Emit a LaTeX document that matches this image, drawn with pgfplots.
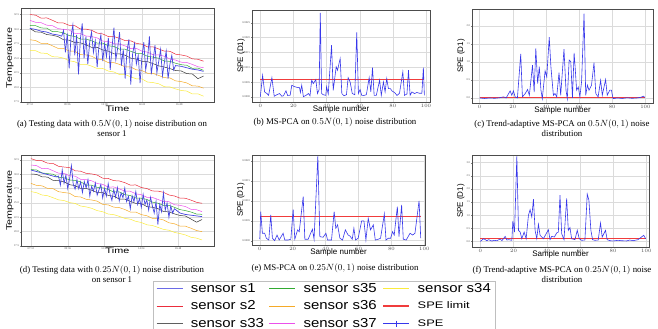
\documentclass[border=0pt]{standalone}
\usepackage{fontspec}
\setmainfont{Liberation Serif}
\setsansfont{Liberation Sans}
\newfontfamily\widesans[FakeStretch=1.35]{Liberation Sans}
\newfontfamily\legsans[FakeStretch=1.15]{Liberation Sans}
\usepackage{pgfplots}
\usepackage{pgfplotstable}
\pgfplotsset{compat=1.18}

\definecolor{cS1}{RGB}{70,70,225}
\definecolor{cS2}{RGB}{235,45,60}
\definecolor{cS33}{RGB}{55,55,55}
\definecolor{cS35}{RGB}{50,170,50}
\definecolor{cS36}{RGB}{245,170,40}
\definecolor{cS37}{RGB}{235,80,235}
\definecolor{cS34}{RGB}{250,235,60}
\definecolor{cSPE}{RGB}{55,55,235}
\definecolor{cLim}{RGB}{240,60,60}

\pgfplotstableread{
x s2 s37 s35 s33 s36 s34
0 6.00 5.60 5.25 5.04 4.27 3.53
3 5.96 5.47 5.24 4.81 4.22 3.52
6 5.75 5.44 5.08 4.79 4.02 3.35
9 5.77 5.27 5.07 4.63 4.03 3.34
12 5.61 5.24 4.83 4.58 3.86 3.11
15 5.43 5.04 4.82 4.49 3.68 3.09
18 5.42 4.98 4.74 4.27 3.67 3.01
21 5.26 4.94 4.56 4.24 3.50 2.83
24 5.24 4.71 4.50 4.08 3.48 2.76
27 5.01 4.69 4.32 4.06 3.25 2.58
30 5.00 4.53 4.32 3.93 3.23 2.59
33 4.92 4.49 4.20 3.75 3.14 2.46
36 4.73 4.40 4.04 3.75 2.95 2.30
39 4.67 4.18 4.04 3.57 2.89 2.30
42 4.49 4.15 3.86 3.49 2.70 2.12
45 4.49 4.00 3.81 3.31 2.70 2.06
48 4.37 3.97 3.62 3.30 2.58 1.88
51 4.21 3.85 3.62 3.21 2.41 1.88
54 4.20 3.67 3.48 3.01 2.40 1.73
57 4.02 3.68 3.34 2.94 2.21 1.59
60 3.97 3.49 3.33 2.79 2.16 1.58
63 3.78 3.42 3.13 2.77 1.97 1.37
66 3.78 3.24 3.08 2.63 1.96 1.33
69 3.64 3.23 3.00 2.48 1.82 1.25
72 3.49 3.14 2.81 2.40 1.67 1.05
75 3.48 2.95 2.79 2.29 1.65 1.03
78 3.28 2.88 2.66 2.16 1.45 0.90
81 3.23 2.73 2.56 2.13 1.40 0.79
84 3.15 2.71 2.52 1.95 1.31 0.75
87 2.96 2.58 2.31 1.92 1.11 0.55
90 2.93 2.42 2.33 1.60 1.09 0.56
93 2.80 2.35 2.17 1.78 0.95 0.40
}\dataA

\pgfplotstableread{
x s2 s37 s35 s33 s36 s34
0 6.10 5.65 5.33 5.02 4.37 3.80
3 5.97 5.61 5.31 5.00 4.23 3.72
6 5.95 5.40 5.10 4.83 4.20 3.56
9 5.78 5.42 5.05 4.81 4.02 3.51
12 5.76 5.25 5.01 4.58 4.00 3.37
15 5.56 5.08 4.79 4.56 3.79 3.22
18 5.51 5.06 4.76 4.47 3.73 3.17
21 5.47 4.90 4.61 4.28 3.68 3.03
24 5.25 4.88 4.57 4.21 3.45 2.97
27 5.22 4.65 4.48 4.02 3.42 2.79
30 5.07 4.63 4.26 4.02 3.26 2.73
33 5.03 4.55 4.24 3.89 3.21 2.63
36 4.95 4.36 4.09 3.73 3.13 2.47
39 4.73 4.30 4.06 3.72 2.90 2.39
42 4.71 4.11 3.94 3.53 2.87 2.23
45 4.56 4.12 3.77 3.47 2.71 2.19
48 4.54 3.99 3.77 3.28 2.68 2.07
51 4.42 3.83 3.59 3.27 2.55 1.93
54 4.25 3.82 3.52 3.12 2.37 1.87
57 4.26 3.64 3.35 2.97 2.37 1.72
60 4.08 3.58 3.33 2.96 2.19 1.64
63 4.01 3.40 3.25 2.75 2.11 1.48
66 3.84 3.39 3.06 2.70 1.93 1.43
69 3.83 3.25 2.99 2.61 1.91 1.30
72 3.75 3.10 2.84 2.41 1.82 1.16
75 3.56 3.09 2.83 2.38 1.62 1.10
78 3.49 2.88 2.70 2.24 1.55 0.95
81 3.34 2.84 2.54 2.13 1.39 0.87
84 3.33 2.75 2.47 2.09 1.38 0.77
87 3.20 2.56 2.37 1.88 1.24 0.61
90 3.05 2.53 2.23 1.66 1.08 0.55
93 2.98 2.40 2.21 1.85 1.00 0.42
}\dataD

\pgfplotsset{
  panel/.style={
    scale only axis, anchor=south west,
    axis line style={gray!60!black, line width=0.4pt},
    grid=major, grid style={gray!28, line width=0.4pt},
    tick label style={font=\fontsize{2.8}{3}\selectfont, text=gray!60!black, inner sep=0.8pt},
    major tick length=1pt, tick align=outside, tick pos=left,
    xtick={0,20,40,60,80,100},
    xlabel style={at={(axis description cs:0.5,0)}, anchor=north, inner sep=0pt},
    ylabel style={anchor=center, inner sep=0pt},
  },
  tsplot/.style={panel,
    xlabel={\widesans\fontsize{8}{9}\selectfont Time},
    ylabel={\widesans\fontsize{8}{9}\selectfont Temperature},
    ytick={0,...,6},
    yticklabels={17.5,20.0,22.5,25.0,27.5,30.0,32.5},
    xticklabels={07:12,09:36,12:00,14:24,16:48,19:12},
  },
  speplot/.style={panel,
    xlabel={\sffamily\fontsize{8}{9}\selectfont Sample number},
    ylabel={\sffamily\fontsize{8}{9}\selectfont SPE (D1)},
  },
  sens/.style={line width=0.5pt},
}

\begin{document}
\begin{tikzpicture}[x=1pt,y=1pt]
\useasboundingbox (0,0) rectangle (658,329);

% ---------------- (a)
\begin{axis}[tsplot, at={(21pt,227pt)}, width=193pt, height=94pt,
  xmin=-4.8, xmax=98.6, ymin=0, ymax=6.45,
  xlabel style={yshift=-3.5pt},
  ylabel style={at={(axis description cs:-0.057,0.47)}}]
\addplot[sens, cS34] table[x=x,y=s34] {\dataA};
\addplot[sens, cS36] table[x=x,y=s36] {\dataA};
\addplot[sens, cS33] table[x=x,y=s33] {\dataA};
\addplot[sens, cS35] table[x=x,y=s35] {\dataA};
\addplot[sens, cS37] table[x=x,y=s37] {\dataA};
\addplot[sens, cS2] table[x=x,y=s2] {\dataA};
\addplot[cS1, line width=0.7pt] coordinates {
(0,5.05) (3,4.98) (6,4.86) (9,4.80) (12,4.66) (15,4.60) (17,4.52)
(18,4.9) (19,3.4) (20,4.7) (21,2.3) (22,4.5) (23,5.3) (24,3.2) (25,4.6) (26,1.9) (27,4.3) (28,5.4) (29,3.0) (30,4.5) (31,2.6) (32,4.1) (33,4.8) (34,3.4) (35,4.2) (36,2.4) (37,3.9) (38,4.6) (39,2.8) (40,4.0) (41,3.1) (42,4.4) (43,2.2) (44,3.8) (45,5.1) (46,2.9) (47,3.7) (48,4.8) (49,2.5) (50,3.6) (51,1.6) (52,3.5) (53,4.3) (54,1.2) (55,3.3) (56,4.0) (57,2.6) (58,3.2) (59,1.3) (60,3.1) (61,4.1) (62,2.2) (63,3.0) (64,4.5) (65,1.9) (66,2.9) (67,3.9) (68,2.0) (69,2.8) (70,3.6) (71,1.8) (72,2.7) (73,3.5) (74,1.6) (75,2.6) (76,3.2) (77,2.2) (78,2.5)
(81,2.45) (84,2.35) (87,2.25) (90,2.2) (93,2.1)};
\end{axis}

% ---------------- (b)
\begin{axis}[speplot, at={(252pt,227pt)}, width=178pt, height=92pt,
  xmin=-5, xmax=102.4, ymin=-0.34, ymax=5.86,
  ytick={0,...,5}, yticklabels={0.0000,0.0005,0.0010,0.0015,0.0020,0.0025},
  xlabel style={yshift=-3.5pt},
  ylabel style={at={(axis description cs:-0.062,0.5)}}]
\addplot[cLim, line width=0.6pt] coordinates {(0,1.19) (99,1.19)};
\addplot[cSPE, line width=0.6pt] coordinates {
(0,0.0) (1.4,1.46) (2.6,0.34) (4,0.23) (5,0.11) (7,1.30) (8.4,0.05) (10,0.15) (11.6,0.23) (13,0.05) (14,0.08) (15.5,0.41) (16.5,0.10) (18,0.11) (19,0.79) (20.5,0.70) (22,0.65) (23.7,0.62) (24.2,0.30) (25,0.79) (26,0.02) (27.5,0.10) (29,0.23) (30,0.08) (31,1.13) (32,0.90) (33.5,1.17) (34.5,0.23) (35.5,0.50) (36.2,5.67) (37,0.23) (38,0.15) (39.5,0.11) (40,0.68) (41,0.2) (43,3.49) (44,0.45) (45.8,2.03) (46.6,1.80) (48.2,2.59) (49.2,0.23) (50.5,0.08) (52,0.15) (53,1.30) (54.2,1.01) (55.5,0.23) (57,0.15) (58.2,4.35) (59.2,0.23) (60.2,0.50) (61.2,0.11) (62.5,0.10) (64,0.15) (65.7,1.30) (66.7,0.34) (67.7,1.98) (68.7,0.11) (70,0.11) (72,1.13) (73,0.11) (74.3,1.01) (75.3,0.34) (76.3,1.24) (77.3,0.56) (78.5,0.56) (79.5,0.40) (81,0.30) (82.5,0.10) (84,0.25) (86,1.69) (87,0.11) (88.5,0.20) (89.4,1.80) (90.4,0.11) (91.5,0.34) (93,0.23) (94.5,0.30) (96,0.25) (97.5,0.25) (98.4,1.98) (99,0.11)};
\end{axis}

% ---------------- (c)
\begin{axis}[speplot, at={(472pt,226pt)}, width=181pt, height=94pt,
  xmin=-4.6, xmax=104.6, ymin=-0.28, ymax=4.93,
  ytick={0,...,4}, yticklabels={0.0,0.5,1.0,1.5,2.0},
  xlabel style={yshift=-3.5pt},
  ylabel style={at={(axis description cs:-0.061,0.5)}}]
\addplot[cLim, line width=0.7pt] coordinates {(0,0.02) (99.5,0.02)};
\addplot[cSPE, line width=0.6pt] coordinates {
(0,0.0) (3,-0.03) (6,0.0) (9,-0.02) (12,0.01) (14.4,0.06) (16,0.0) (18.4,0.39) (19.4,0.15) (20.4,0.39) (21.4,0.06) (22.8,0.0) (24.8,2.44) (25.8,0.06) (27.5,0.24) (28.9,0.47) (30,0.15) (31.9,1.82) (32.9,0.33) (33.9,2.75) (35,0.80) (36,1.73) (37,0.43) (37.8,-0.04) (39.5,1.50) (40.5,1.17) (42,3.37) (43,1.73) (44.5,0.15) (45.5,0.24) (46.5,0.06) (47.9,1.40) (48.9,0.15) (50.9,2.70) (52.1,0.43) (52.9,-0.04) (54,2.10) (55,2.01) (56,0.0) (57,2.50) (57.6,1.73) (58.5,0.43) (59.5,0.61) (60.5,0.06) (61.5,0.90) (63,4.67) (64,0.15) (65,0.71) (66,0.43) (67.5,0.71) (69,1.95) (70.1,0.24) (71.5,0.06) (73,0.98) (74,0.15) (76,1.02) (77,0.15) (78.5,0.43) (79.5,0.43) (80.5,-0.04) (83,0.0) (86,-0.03) (89,0.01) (92,-0.02) (95,0.0) (97,0.03) (99,0.10) (99.5,0.02)};
\end{axis}

% ---------------- (d)
\begin{axis}[tsplot, at={(21pt,83pt)}, width=193pt, height=91pt,
  xmin=-5.4, xmax=99.5, ymin=0, ymax=6.35,
  xlabel style={yshift=-1.5pt},
  ylabel style={at={(axis description cs:-0.057,0.5)}}]
\addplot[sens, cS34] table[x=x,y=s34] {\dataD};
\addplot[sens, cS36] table[x=x,y=s36] {\dataD};
\addplot[sens, cS33] table[x=x,y=s33] {\dataD};
\addplot[sens, cS35] table[x=x,y=s35] {\dataD};
\addplot[sens, cS37] table[x=x,y=s37] {\dataD};
\addplot[sens, cS2] table[x=x,y=s2] {\dataD};
\addplot[cS1, line width=0.7pt] coordinates {
(0,5.30) (3,5.20) (6,5.09) (9,4.99) (12,4.88) (14,4.82)
(15,4.88) (16,4.25) (17,5.31) (18,4.38) (19,4.94) (20,4.01) (21,4.67) (22,5.6) (23,4.3) (24,3.97) (25,4.63) (26,4.0) (27,4.47) (28,3.73) (29,4.5) (30,4.06) (31,4.63) (32,3.49) (33,4.16) (34,3.82) (35,4.39) (36,3.55) (37,3.92) (38,4.29) (39,3.35) (40,4.02) (41,3.48) (42,4.35) (43,3.61) (44,3.18) (45,3.94) (46,3.41) (47,4.07) (48,3.14) (49,3.7) (50,3.37) (51,4.04) (52,3.1) (53,3.47) (54,2.6) (55,3.5) (56,3.1) (57,3.8) (58,2.9) (59,3.3) (60,2.7) (61,3.6) (62,2.9) (63,3.2) (64,2.5) (65,3.4) (66,2.8) (67,2.3) (68,3.1) (69,1.5) (70,2.9) (71,2.4) (72,3.7) (73,2.5) (74,3.0) (75,2.0) (76,2.8) (77,2.3) (78,2.6)
(81,2.3) (84,2.2) (87,2.15) (90,2.1) (93,2.05)};
\end{axis}

% ---------------- (e)
\begin{axis}[speplot, at={(252pt,84pt)}, width=173pt, height=90pt,
  xmin=-4.7, xmax=100.4, ymin=-0.22, ymax=4.3,
  ytick={0,...,4}, yticklabels={0.0000,0.0005,0.0010,0.0015,0.0020},
  xlabel style={yshift=-3.5pt},
  ylabel style={at={(axis description cs:-0.065,0.5)}}]
\addplot[cLim, line width=0.6pt] coordinates {(0,1.21) (97.8,1.21)};
\addplot[cSPE, line width=0.6pt] coordinates {
(0,0.07) (0.6,1.46) (1.6,0.37) (3,0.37) (4,0.12) (5.5,0.03) (6.7,1.29) (7.7,0.12) (9.1,0.0) (10.5,0.28) (11.8,0.03) (14.2,0.37) (15.2,0.03) (17.2,0.03) (18.9,0.07) (20.3,1.57) (21.3,0.07) (23,0.54) (24,0.45) (26.4,2.21) (27.4,0.07) (29.4,0.07) (32,0.57) (33,0.07) (35.3,4.25) (36.5,0.20) (38.5,0.17) (40.2,0.37) (41.2,0.03) (43.6,0.03) (45.2,1.46) (46.2,0.62) (47.3,0.79) (48.7,0.12) (50.3,0.03) (52,0.54) (53.7,0.28) (54.8,0.23) (56.2,0.07) (57.2,0.62) (58.2,0.03) (59.8,0.12) (61.9,0.99) (63.3,0.99) (64.5,0.03) (65.9,1.12) (67.3,0.54) (69,0.79) (70.2,0.03) (72,0.07) (73.4,0.12) (75.7,1.34) (76.7,0.03) (78.1,0.12) (79.5,0.12) (80.7,0.45) (81.7,0.28) (83.6,1.71) (84.6,0.20) (86.2,1.79) (87.2,0.07) (89,0.03) (91.3,0.37) (92.9,0.28) (94.3,0.37) (96.8,2.00) (97.8,0.12)};
\end{axis}

% ---------------- (f)
\begin{axis}[speplot, at={(472pt,82pt)}, width=177pt, height=92pt,
  xmin=-5, xmax=101.6, ymin=-0.43, ymax=6.58,
  ytick={0,...,6}, yticklabels={0.0,0.5,1.0,1.5,2.0,2.5,3.0},
  xlabel style={yshift=-3.5pt},
  ylabel style={at={(axis description cs:-0.064,0.5)}}]
\addplot[cLim, line width=0.6pt] coordinates {(0,0.26) (99.6,0.26)};
\addplot[cSPE, line width=0.6pt] coordinates {
(0,0.0) (2,0.20) (4,0.05) (5,0.13) (7,0.02) (8,0.08) (10,0.05) (12,0.18) (13,0.05) (15,0.38) (16,0.10) (17,0.13) (19,0.08) (19.6,1.56) (20.6,0.71) (22,6.50) (23,0.84) (24,0.71) (25,0.20) (26.4,0.71) (27.6,0.20) (29,1.99) (30,2.42) (31,1.86) (32,3.21) (33,0.84) (34,0.20) (35,1.30) (36,0.46) (38,0.20) (41,0.89) (42,0.13) (43,0.38) (44.6,0.33) (46,0.64) (47,0.71) (48,3.52) (49,0.59) (50.4,0.13) (52,3.27) (53,0.84) (54,1.05) (55,0.20) (57,0.13) (58.4,0.84) (59.6,0.20) (61,0.08) (63,0.10) (64.4,3.60) (65.4,3.14) (66.6,0.84) (67.6,0.13) (69,0.08) (71,0.10) (72.4,1.40) (73.4,0.33) (75.4,0.84) (76.4,0.13) (78,0.05) (80,0.03) (83,0.08) (85,0.05) (88,0.03) (90,0.10) (92,0.05) (95,0.13) (98.4,0.46) (99.6,0.20)};
\end{axis}

% ---------------- captions
\tikzset{capnode/.style={align=center, font=\fontsize{8.8}{10.5}\selectfont, inner sep=0pt}}
\node[capnode] at (112,201) {(a) Testing data with $0.5N(0,1)$ noise distribution on\\ sensor 1};
\node[capnode] at (335,207) {(b) MS-PCA on $0.5N(0,1)$ noise distribution};
\node[capnode] at (562,201) {(c) Trend-adaptive MS-PCA on $0.5N(0,1)$ noise\\ distribution};
\node[capnode] at (112,55) {(d) Testing data with $0.25N(0,1)$ noise distribution\\ on sensor 1};
\node[capnode] at (335,61) {(e) MS-PCA on $0.25N(0,1)$ noise distribution};
\node[capnode] at (562,55) {(f) Trend-adaptive MS-PCA on $0.25N(0,1)$ noise\\ distribution};

% ---------------- legend
\begin{axis}[at={(153pt,1pt)}, anchor=south west, scale only axis, width=367pt, height=47pt,
  hide axis, xmin=0, xmax=1, ymin=0, ymax=1,
  legend columns=3,
  legend style={at={(0,1)}, anchor=north west, draw=gray!50, fill=white,
    font=\legsans\fontsize{13}{14}\selectfont, inner xsep=3pt, inner ysep=0pt,
    row sep=3pt,
    /tikz/every odd column/.append style={column sep=6pt},
    /tikz/every even column/.append style={column sep=3pt},
    cells={anchor=west}},
  legend image code/.code={\draw[mark repeat=2,mark phase=2,#1] plot coordinates {(0pt,0pt) (13pt,0pt) (26pt,0pt)};},
]
\addlegendimage{cS1!80!white, line width=0.6pt}
\addlegendentry{\makebox[72pt][l]{sensor s1}}
\addlegendimage{cS35, line width=0.6pt}
\addlegendentry{\makebox[74pt][l]{sensor s35}}
\addlegendimage{cS34, line width=0.6pt}
\addlegendentry{\makebox[72pt][l]{sensor s34}}
\addlegendimage{cS2, line width=0.6pt}
\addlegendentry{sensor s2}
\addlegendimage{cS36, line width=0.6pt}
\addlegendentry{sensor s36}
\addlegendimage{cLim, line width=1.2pt}
\addlegendentry{\widesans\fontsize{9.5}{10}\selectfont SPE limit}
\addlegendimage{cS33!80!white, line width=0.6pt}
\addlegendentry{sensor s33}
\addlegendimage{cS37, line width=0.6pt}
\addlegendentry{sensor s37}
\addlegendimage{cSPE, line width=1.2pt, mark=+, mark size=3pt, mark options={solid, line width=0.8pt}}
\addlegendentry{\widesans\fontsize{9.5}{10}\selectfont SPE}
\end{axis}
\end{tikzpicture}
\end{document}
